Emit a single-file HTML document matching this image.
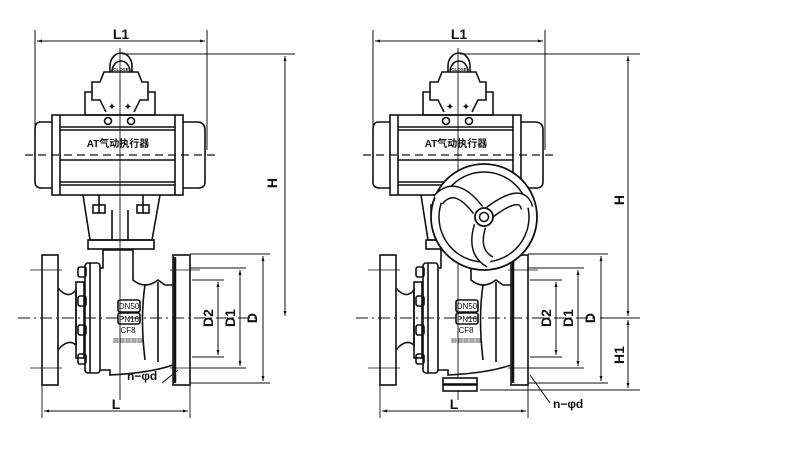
<!DOCTYPE html>
<html><head><meta charset="utf-8"><style>
html,body{margin:0;padding:0;background:#fff;width:800px;height:450px;overflow:hidden}
svg{display:block}
text{font-family:"Liberation Sans","Noto Sans CJK SC",sans-serif;fill:#111}
</style></head><body>
<svg width="800" height="450" viewBox="0 0 800 450" xmlns="http://www.w3.org/2000/svg">
<defs>
<marker id="a" viewBox="0 0 10 10" refX="10" refY="5" markerWidth="7" markerHeight="5" orient="auto-start-reverse"><path d="M0,2 L10,5 L0,8z" fill="#111"/></marker>
<g id="valve" fill="none" stroke="#111" stroke-width="1.6">
  <line x1="35" y1="30" x2="35" y2="150" stroke-width="1"/>
  <line x1="207" y1="30" x2="207" y2="150" stroke-width="1"/>
  <line x1="37" y1="41" x2="205" y2="41" stroke-width="1" marker-start="url(#a)" marker-end="url(#a)"/>
  <line x1="120" y1="48" x2="120" y2="400" stroke-width="0.9"/>
  <line x1="25" y1="155" x2="215" y2="155" stroke-width="1.2" stroke-dasharray="8,5"/>
  <path d="M112,72 A9,11 0 0 1 130,72 M110,72 L110,66 A11,13 0 0 1 132,66 L132,72"/>
  <path d="M100,82 L104,72 L138,72 L142,82 L148,82 L148,92 L155,92 L155,115 L85,115 L85,92 L92,92 L92,82Z"/>
  <path d="M92,92 L92,100 L100,100 L106,112 M148,92 L148,100 L140,100 L134,112"/>
  <text x="121" y="71" font-size="4.5" text-anchor="middle" stroke="none" font-weight="bold">CLOSE</text>
  <text x="112" y="110" font-size="10" text-anchor="middle" stroke="none">✦</text>
  <text x="128" y="110" font-size="10" text-anchor="middle" stroke="none">✦</text>
  <circle cx="108" cy="121" r="3.5"/><circle cx="131" cy="121" r="3.5"/>
  <rect x="52" y="115" width="131" height="80"/>
  <line x1="60" y1="115" x2="60" y2="195"/><line x1="175" y1="115" x2="175" y2="195"/>
  <line x1="60" y1="127" x2="175" y2="127"/><line x1="60" y1="130" x2="175" y2="130"/>
  <line x1="60" y1="160" x2="175" y2="160"/><line x1="60" y1="182" x2="175" y2="182"/><line x1="60" y1="185" x2="175" y2="185"/>
  <path d="M52,122 L40,122 Q35,122 35,130 L35,182 Q35,188 42,188 L52,188"/>
  <path d="M183,122 L197,122 Q205,122 205,130 L205,182 Q205,188 198,188 L183,188"/>
  <text x="118" y="147" font-size="10" text-anchor="middle" stroke="none" font-weight="bold">AT气动执行器</text>
  <path d="M83,195 L90,240 L152,240 L160,195"/>
  <rect x="88" y="240" width="66" height="9"/>
  <rect x="93" y="205" width="12" height="8"/><rect x="137" y="205" width="12" height="8"/>
  <line x1="99" y1="195" x2="99" y2="213"/><line x1="143" y1="195" x2="143" y2="213"/>
  <line x1="112" y1="210" x2="112" y2="240"/><line x1="128" y1="210" x2="128" y2="240"/>
  <!-- valve body -->
  <rect x="42" y="255" width="16" height="130"/>
  <line x1="30" y1="270" x2="62" y2="270" stroke-width="0.8"/><line x1="30" y1="368" x2="62" y2="368" stroke-width="0.8"/>
  <path d="M58,288 Q68,300 76,290 L76,345 Q68,338 58,350"/>
  <rect x="76" y="282" width="8" height="76"/>
  <rect x="78" y="267" width="8" height="10" rx="2"/><rect x="78" y="296" width="8" height="10" rx="2"/>
  <rect x="78" y="325" width="8" height="10" rx="2"/><rect x="78" y="354" width="8" height="10" rx="2"/>
  <rect x="85" y="263" width="15" height="110" rx="3"/>
  <line x1="90" y1="263" x2="90" y2="373"/>
  <path d="M100,268 L103,268 L103,250 L133,250 L133,280 Q145,290 158,280 L165,285 L173,285 M100,370 L110,370 L110,375 Q150,373 173,365"/>
  <path d="M145,285 Q140,318 145,360 M158,282 L158,362"/>
  <rect x="173" y="255" width="17" height="130"/>
  <line x1="175" y1="257" x2="175" y2="383" stroke-width="2.5"/>
  <line x1="170" y1="270" x2="200" y2="270" stroke-width="0.8"/><line x1="170" y1="368" x2="200" y2="368" stroke-width="0.8"/>
  <line x1="18" y1="318" x2="260" y2="318" stroke-width="0.9" stroke-dasharray="12,4,2,4"/>
  <rect x="118" y="300" width="22" height="12" rx="2"/><rect x="118" y="313" width="22" height="11" rx="2"/>
  <text x="129" y="309" font-size="8" text-anchor="middle" stroke="none">DN50</text>
  <text x="129" y="322" font-size="8" text-anchor="middle" stroke="none">PN16</text>
  <text x="128" y="333" font-size="8" text-anchor="middle" stroke="none">CF8</text>
  <text x="128" y="343" font-size="6" text-anchor="middle" stroke="none">▦▦▦▦▦</text>
  <line x1="190" y1="254" x2="270" y2="254" stroke-width="0.9"/><line x1="190" y1="383" x2="270" y2="383" stroke-width="0.9"/>
  <line x1="190" y1="268" x2="246" y2="268" stroke-width="0.9"/><line x1="190" y1="368" x2="246" y2="368" stroke-width="0.9"/>
  <line x1="192" y1="280" x2="224" y2="280" stroke-width="0.9"/><line x1="192" y1="357" x2="224" y2="357" stroke-width="0.9"/>
  <line x1="263" y1="256" x2="263" y2="381" stroke-width="1" marker-start="url(#a)" marker-end="url(#a)"/>
  <line x1="240" y1="270" x2="240" y2="366" stroke-width="1" marker-start="url(#a)" marker-end="url(#a)"/>
  <line x1="218" y1="282" x2="218" y2="355" stroke-width="1" marker-start="url(#a)" marker-end="url(#a)"/>
  <line x1="42" y1="385" x2="42" y2="418" stroke-width="0.9"/><line x1="190" y1="385" x2="190" y2="418" stroke-width="0.9"/>
  <line x1="44" y1="411" x2="188" y2="411" stroke-width="1" marker-start="url(#a)" marker-end="url(#a)"/>
</g>
</defs>
<use href="#valve"/>
<use href="#valve" transform="translate(338,0)"/>
<g font-size="14" font-weight="bold">
<text x="121" y="39" text-anchor="middle">L1</text>
<text x="459" y="39" text-anchor="middle">L1</text>
<text x="116" y="409" text-anchor="middle">L</text>
<text x="454" y="409" text-anchor="middle">L</text>
<text transform="translate(257,318) rotate(-90)" text-anchor="middle">D</text>
<text transform="translate(235,318) rotate(-90)" text-anchor="middle">D1</text>
<text transform="translate(213,318) rotate(-90)" text-anchor="middle">D2</text>
<text transform="translate(595,318) rotate(-90)" text-anchor="middle">D</text>
<text transform="translate(573,318) rotate(-90)" text-anchor="middle">D1</text>
<text transform="translate(551,318) rotate(-90)" text-anchor="middle">D2</text>
<text transform="translate(277,183) rotate(-90)" text-anchor="middle">H</text>
<text transform="translate(624,200) rotate(-90)" text-anchor="middle">H</text>
<text transform="translate(624,355) rotate(-90)" text-anchor="middle">H1</text>
<text x="127" y="380" font-size="12">n−φd</text>
<text x="553" y="408" font-size="12">n−φd</text>
</g>
<g fill="none" stroke="#111" stroke-width="1">
<line x1="122" y1="54" x2="295" y2="54"/>
<line x1="285" y1="56" x2="285" y2="316" marker-start="url(#a)" marker-end="url(#a)"/>
<line x1="162" y1="383" x2="178" y2="370"/>
<line x1="460" y1="54" x2="640" y2="54"/>
<line x1="628" y1="56" x2="628" y2="316" marker-start="url(#a)" marker-end="url(#a)"/>
<line x1="628" y1="320" x2="628" y2="388" marker-start="url(#a)" marker-end="url(#a)"/>
<line x1="480" y1="390" x2="640" y2="390"/>
<line x1="600" y1="318" x2="640" y2="318"/>
<line x1="550" y1="403" x2="530" y2="375"/>
<rect x="443" y="378" width="34" height="6" fill="#fff" stroke-width="1.6"/>
<rect x="443" y="385" width="34" height="6" fill="#fff" stroke-width="1.6"/>
<circle cx="484" cy="217" r="53" fill="#fff" stroke-width="1.8"/>
<circle cx="484" cy="217" r="45" stroke-width="1.5"/>
<path d="M478,210 Q455,180 438,200 M490,212 Q522,188 527,208 M480,226 Q472,252 490,262" stroke-width="13" stroke="#111"/>
<path d="M478,210 Q455,180 438,200 M490,212 Q522,188 527,208 M480,226 Q472,252 490,262" stroke-width="10" stroke="#fff"/>
<circle cx="484" cy="217" r="9" fill="#fff" stroke-width="1.8"/>
<circle cx="484" cy="217" r="4.5" stroke-width="1.5"/>
</g>
</svg>
</body></html>
